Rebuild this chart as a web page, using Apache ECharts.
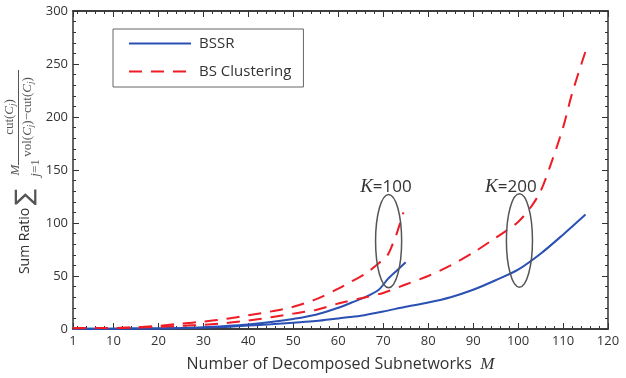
<!DOCTYPE html>
<html>
<head>
<meta charset="utf-8">
<script src="https://cdn.jsdelivr.net/npm/echarts@6/dist/echarts.min.js"></script>
<style>
  html, body { margin: 0; padding: 0; background: #fff; }
  #chart { width: 626px; height: 378px; }
</style>
</head>
<body>
<div id="chart"></div>
<script>
// 刻度
const xMajorTicks = [1, 10, 20, 30, 40, 50, 60, 70, 80, 90, 100, 110, 120]
const xMinorTicks = []
for (let v = 2; v <= 120; v += 2) {
  if (v % 10 !== 0) xMinorTicks.push(v)
}

// BSSR, K=100
const mBssr100 = [1, 10, 20, 25, 30, 35, 40, 45, 50, 55, 60, 63, 66, 69, 71, 73, 75]
const bssr100 = [0.3, 0.3, 0.5, 0.9, 1.6, 2.8, 4.3, 6.5, 9.5, 13.5, 20, 25, 30, 37, 47, 55, 63]

// BS Clustering, K=100
const mBsc100 = [1, 10, 15, 20, 25, 30, 35, 40, 45, 50, 55, 60, 63, 66, 69, 71, 72, 73, 74.5]
const bsc100 = [0.8, 1, 1.6, 3, 5, 7, 9.5, 13, 16.5, 21, 28, 38, 45, 52, 62, 70, 79, 90, 110]

// BSSR, K=200
const mBssr200 = [1, 10, 20, 25, 30, 35, 40, 45, 50, 55, 60, 65, 70, 75, 80, 85, 90, 95, 100, 105, 110, 115]
const bssr200 = [0.3, 0.3, 0.5, 0.8, 1.2, 2, 3.2, 4.5, 6, 7.5, 10, 12.5, 16.5, 21, 25, 30, 37, 46, 56, 71, 89, 108]

// BS Clustering, K=200
const mBsc200 = [1, 10, 15, 20, 25, 30, 35, 40, 45, 50, 55, 60, 65, 70, 75, 80, 85, 90, 95, 100, 103, 105, 107, 110, 112, 115]
const bsc200 = [0.8, 1, 1.3, 2, 3, 4, 5.5, 8, 11, 14.5, 18, 24, 29, 34, 42, 50, 60, 72, 86, 101, 116, 130, 152, 190, 222, 262]

// 标注（数据坐标）
const ringLabels = ['100', '200']
const ringCenters = [[71.2, 83], [100.3, 83.5]]
const ringRadius = [2.9, 44]
const labelPos = [[70.6, 133.6], [98.4, 133.6]]

const BLUE = '#2a50b4'
const RED = '#ee1c25'
const AXIS = '#333'
const FONT = '"Open Sans", sans-serif'

const zip = (xs, ys) => xs.map((x, i) => [x, ys[i]])

const chart = echarts.init(document.getElementById('chart'), null, { renderer: 'canvas' })

function xAxisCfg(pos, ticks, len, labels) {
  return {
    type: 'value',
    position: pos,
    min: 1,
    max: 120,
    axisLine: { show: true, onZero: false, lineStyle: { color: AXIS, width: 1.5 } },
    axisTick: { show: true, inside: true, length: len, customValues: ticks, lineStyle: { color: AXIS, width: 1 } },
    axisLabel: labels
      ? { show: true, customValues: ticks, color: '#333', fontSize: 13, fontFamily: FONT, margin: 6 }
      : { show: false },
    splitLine: { show: false },
  }
}

function yAxisCfg(pos, labels) {
  return {
    type: 'value',
    position: pos,
    min: 0,
    max: 300,
    interval: 50,
    axisLine: { show: true, lineStyle: { color: AXIS, width: 1.5 } },
    axisTick: { show: true, inside: true, length: 6, lineStyle: { color: AXIS, width: 1 } },
    minorTick: { show: true, splitNumber: 5, length: 3, lineStyle: { color: AXIS, width: 1 } },
    axisLabel: labels
      ? { show: true, color: '#333', fontSize: 13, fontFamily: FONT, margin: 5 }
      : { show: false },
    splitLine: { show: false },
  }
}

const xBottom = xAxisCfg('bottom', xMajorTicks, 6, true)
xBottom.name = 'Number of Decomposed Subnetworks  {m|M}'
xBottom.nameLocation = 'middle'
xBottom.nameGap = 27
xBottom.nameTextStyle = {
  color: '#333',
  fontSize: 16,
  fontFamily: FONT,
  rich: {
    m: { fontSize: 17, fontStyle: 'italic', fontFamily: '"Liberation Serif", serif', color: '#333' },
  },
}

const lineSeries = (name, data, color, dashed) => ({
  name,
  type: 'line',
  data,
  smooth: 0.3,
  symbol: 'none',
  showSymbol: false,
  xAxisIndex: 0,
  yAxisIndex: 0,
  lineStyle: { color, width: 2, type: dashed ? [13, 9] : 'solid' },
  itemStyle: { color },
  z: dashed ? 3 : 2,
})

const option = {
  animation: false,
  grid: { left: 73, right: 18, top: 11, bottom: 37, containLabel: false },
  legend: {
    data: ['BSSR', 'BS Clustering'],
    orient: 'vertical',
    left: 113,
    top: 29,
    itemWidth: 62,
    itemHeight: 14,
    itemGap: 13,
    padding: [7, 12, 8, 15],
    borderColor: '#666',
    borderWidth: 1,
    itemStyle: { opacity: 0 },
    textStyle: { color: '#333', fontSize: 15, fontFamily: FONT, padding: [0, 0, 0, 3] },
  },
  xAxis: [
    xBottom,
    xAxisCfg('bottom', xMinorTicks, 3, false),
    xAxisCfg('top', xMajorTicks, 6, false),
    xAxisCfg('top', xMinorTicks, 3, false),
  ],
  yAxis: [yAxisCfg('left', true), yAxisCfg('right', false)],
  series: [
    lineSeries('BSSR', zip(mBssr100, bssr100), BLUE, false),
    lineSeries('BSSR', zip(mBssr200, bssr200), BLUE, false),
    lineSeries('BS Clustering', zip(mBsc100, bsc100), RED, true),
    lineSeries('BS Clustering', zip(mBsc200, bsc200), RED, true),
  ],
}
chart.setOption(option)

// 纵轴公式标题
const serif = '"Liberation Serif", "DejaVu Serif", serif'
const fColor = '#555'
const rot = Math.PI / 2
const richF = {
  i: { fontStyle: 'italic', fontFamily: serif, fontSize: 13, fill: fColor },
  s: { fontStyle: 'italic', fontFamily: serif, fontSize: 9, fill: fColor, padding: [6, 0, 0, 0] },
}
const formula = [
  { type: 'text', x: 25, y: 241, rotation: rot, style: { text: 'Sum Ratio', fill: '#333', fontSize: 14, fontFamily: FONT, align: 'center', verticalAlign: 'middle' } },
  { type: 'text', x: 26, y: 197, rotation: rot, style: { text: '∑', fill: fColor, fontSize: 24, fontFamily: '"DejaVu Sans", sans-serif', align: 'center', verticalAlign: 'middle' } },
  { type: 'text', x: 36, y: 168, rotation: rot, style: { text: '{i|j}=1', rich: richF, fill: fColor, fontSize: 13, fontFamily: serif, align: 'center', verticalAlign: 'middle' } },
  { type: 'text', x: 16, y: 170, rotation: rot, style: { text: 'M', fill: fColor, fontSize: 13, fontStyle: 'italic', fontFamily: serif, align: 'center', verticalAlign: 'middle' } },
  { type: 'text', x: 10, y: 117, rotation: rot, style: { text: 'cut({i|C}{s|j})', rich: richF, fill: fColor, fontSize: 13, fontFamily: serif, align: 'center', verticalAlign: 'middle' } },
  { type: 'line', shape: { x1: 18.5, y1: 70, x2: 18.5, y2: 165 }, style: { stroke: fColor, lineWidth: 1 } },
  { type: 'text', x: 28, y: 117, rotation: rot, style: { text: 'vol({i|C}{s|j})−cut({i|C}{s|j})', rich: richF, fill: fColor, fontSize: 13, fontFamily: serif, align: 'center', verticalAlign: 'middle' } },
]

// 椭圆标注
const toPx = p => chart.convertToPixel({ gridIndex: 0 }, p)
const rings = []
ringCenters.forEach((c, i) => {
  const ctr = toPx(c)
  const edge = toPx([c[0] + ringRadius[0], c[1] + ringRadius[1]])
  rings.push({
    type: 'ellipse',
    shape: { cx: ctr[0], cy: ctr[1], rx: Math.abs(edge[0] - ctr[0]), ry: Math.abs(ctr[1] - edge[1]) },
    style: { fill: 'none', stroke: '#555', lineWidth: 1.5 },
    z: 10,
  })
  const lp = toPx(labelPos[i])
  rings.push({
    type: 'text',
    x: lp[0],
    y: lp[1],
    style: {
      text: '{k|K}=' + ringLabels[i],
      rich: { k: { fontStyle: 'italic', fontFamily: serif, fontSize: 19, fill: '#333' } },
      fill: '#333',
      fontSize: 17,
      fontFamily: FONT,
      align: 'center',
      verticalAlign: 'middle',
    },
    z: 10,
  })
})

chart.setOption({ graphic: formula.concat(rings) })
</script>
</body>
</html>
